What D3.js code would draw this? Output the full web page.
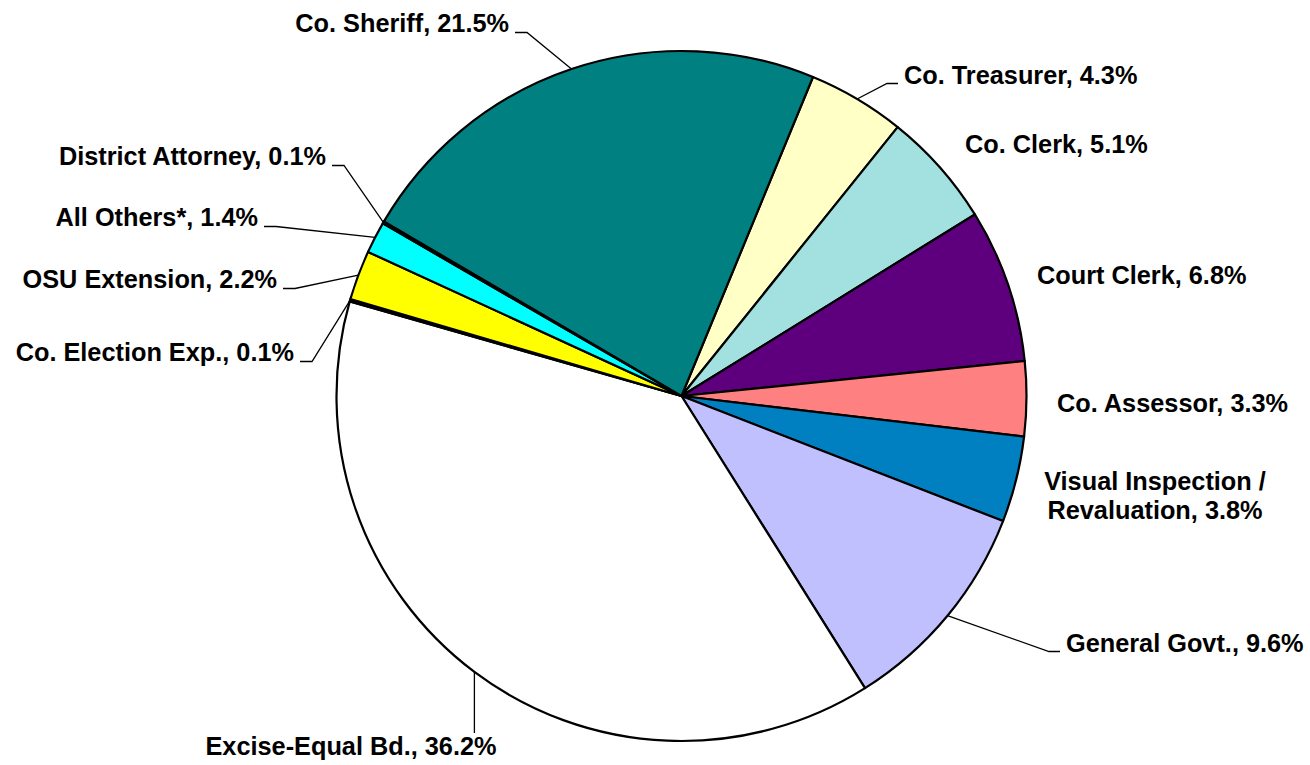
<!DOCTYPE html>
<html>
<head>
<meta charset="utf-8">
<script src="https://cdn.jsdelivr.net/npm/d3@7"></script>
<style>
  body { margin: 0; background: #fff; }
  text { font-family: "Liberation Sans", Arial, sans-serif; font-weight: bold; font-size: 25.3px; fill: #000; }
</style>
</head>
<body>
<script>
// slice data, clockwise starting from Co. Treasurer
const categories = ['Co. Treasurer', 'Co. Clerk', 'Court Clerk', 'Co. Assessor',
  'Visual Inspection / Revaluation', 'General Govt.', 'Excise-Equal Bd.',
  'Co. Election Exp.', 'OSU Extension', 'All Others*', 'District Attorney', 'Co. Sheriff'];
const shares = [4.3, 5.1, 6.8, 3.3, 3.8, 9.6, 36.2, 0.1, 2.2, 1.4, 0.1, 21.5];
const colors = ['#FFFFC6', '#A3E0E0', '#5E007E', '#FF8080', '#0080C0', '#C0C0FF',
  '#FFFFFF', '#333333', '#FFFF00', '#00FFFF', '#333333', '#008080'];

// where each label sits (baseline) and how its leader line runs
const labelLayout = {
  'Co. Sheriff':       { x: 509, y: 32, anchor: 'end', leader: 'left' },
  'Co. Treasurer':     { x: 904, y: 84, anchor: 'start', leader: 'right' },
  'Co. Clerk':         { x: 965, y: 153, anchor: 'start' },
  'Court Clerk':       { x: 1037, y: 284, anchor: 'start' },
  'Co. Assessor':      { x: 1057, y: 412, anchor: 'start' },
  'Visual Inspection / Revaluation': { x: 1155, y: 490, anchor: 'middle' },
  'General Govt.':     { x: 1066, y: 652, anchor: 'start', leader: 'right' },
  'Excise-Equal Bd.':  { x: 351, y: 755, anchor: 'middle', leader: 'down' },
  'Co. Election Exp.': { x: 294, y: 361, anchor: 'end', leader: 'left' },
  'OSU Extension':     { x: 277, y: 288, anchor: 'end', leader: 'left' },
  'All Others*':       { x: 258, y: 226, anchor: 'end', leader: 'left' },
  'District Attorney': { x: 326, y: 165, anchor: 'end', leader: 'left' }
};

const width = 1310, height = 765;
const cx = 681.5, cy = 396, radius = 345;
const startDeg = 22.4;

const data = categories.map((c, i) => ({ name: c, value: shares[i], color: colors[i] }));

const svg = d3.select('body').append('svg')
  .attr('width', width)
  .attr('height', height);

const pie = d3.pie()
  .sort(null)
  .value(d => d.value)
  .startAngle(startDeg * Math.PI / 180)
  .endAngle(startDeg * Math.PI / 180 + 2 * Math.PI);

const arc = d3.arc().innerRadius(0).outerRadius(radius);
const arcs = pie(data);

const g = svg.append('g').attr('transform', `translate(${cx},${cy})`);

g.selectAll('path.slice')
  .data(arcs)
  .join('path')
  .attr('class', 'slice')
  .attr('d', arc)
  .attr('fill', d => d.data.color)
  .attr('stroke', '#000')
  .attr('stroke-width', 2.2)
  .attr('stroke-linejoin', 'round');

const fmt = d3.format('.1f');

// labels
const labels = svg.selectAll('text.lbl')
  .data(arcs)
  .join('text')
  .attr('class', 'lbl')
  .attr('x', d => labelLayout[d.data.name].x)
  .attr('y', d => labelLayout[d.data.name].y)
  .attr('text-anchor', d => labelLayout[d.data.name].anchor);

labels.each(function (d) {
  const t = d3.select(this);
  const lay = labelLayout[d.data.name];
  const full = `${d.data.name}, ${fmt(d.data.value)}%`;
  if (d.data.name.includes(' / ')) {
    const parts = d.data.name.split(' / ');
    t.append('tspan').attr('x', lay.x).text(parts[0] + ' /');
    t.append('tspan').attr('x', lay.x).attr('dy', 29).text(`${parts[1]}, ${fmt(d.data.value)}%`);
  } else {
    t.text(full);
  }
});

// leader lines from slice edge to label
const leaderLine = d3.line();
labels.each(function (d) {
  const lay = labelLayout[d.data.name];
  if (!lay.leader) return;
  const box = this.getBBox();
  const mid = (d.startAngle + d.endAngle) / 2;
  const p0 = [cx + radius * Math.sin(mid), cy - radius * Math.cos(mid)];
  let pts;
  if (lay.leader === 'left') {
    const ex = box.x + box.width + 6;
    pts = [p0, [ex + 12, lay.y + 0.5], [ex, lay.y + 0.5]];
  } else if (lay.leader === 'right') {
    const ex = box.x - 6;
    pts = [p0, [ex - 11, lay.y - 0.5], [ex, lay.y - 0.5]];
  } else {
    pts = [p0, [p0[0], box.y + 1]];
  }
  svg.append('path')
    .attr('d', leaderLine(pts))
    .attr('fill', 'none')
    .attr('stroke', '#000')
    .attr('stroke-width', 1.3);
});
</script>
</body>
</html>
